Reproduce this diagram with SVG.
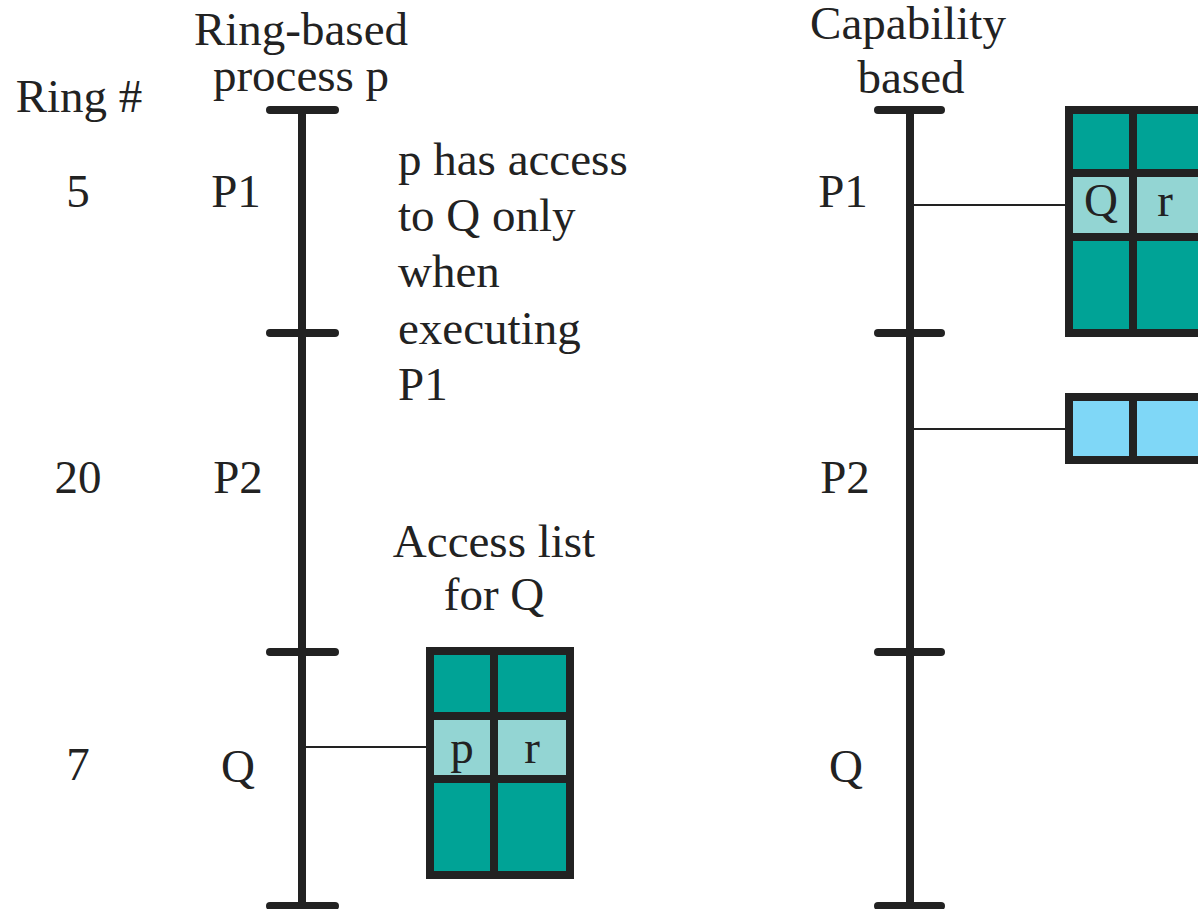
<svg xmlns="http://www.w3.org/2000/svg" width="1198" height="909" viewBox="0 0 1198 909">
  <style>
    text { font-family: "Liberation Serif", "Times New Roman", serif; font-size: 47px; fill: #222; }
    .mid { text-anchor: middle; }
    .axis { stroke: #222; stroke-width: 8; stroke-linecap: round; fill: none; }
    .axis-stem { stroke: #222; stroke-width: 8; fill: none; }
    .link { stroke: #222; stroke-width: 2; fill: none; }
    .grid { stroke: #222; stroke-width: 8; }
    .dark { fill: #00A396; }
    .light { fill: #93D5D3; }
    .blue { fill: #7FD7F7; }
  </style>

  <!-- column headings -->
  <g id="headings">
    <text x="79" y="112" class="mid">Ring #</text>
    <text x="301" y="45" class="mid">Ring-based</text>
    <text x="301" y="91" class="mid">process p</text>
    <text x="908" y="39" class="mid">Capability</text>
    <text x="911" y="93" class="mid">based</text>
  </g>

  <!-- ring numbers -->
  <g id="ring-numbers">
    <text x="78" y="207" class="mid">5</text>
    <text x="78" y="493" class="mid">20</text>
    <text x="78" y="780" class="mid">7</text>
  </g>

  <!-- ring-based process axis -->
  <g id="ring-axis">
    <line class="axis-stem" x1="302" y1="110" x2="302" y2="906"/>
    <line class="axis" x1="270" y1="110" x2="335" y2="110"/>
    <line class="axis" x1="270" y1="333" x2="335" y2="333"/>
    <line class="axis" x1="270" y1="652" x2="335" y2="652"/>
    <line class="axis" x1="270" y1="906" x2="335" y2="906"/>
    <text x="236" y="207" class="mid">P1</text>
    <text x="238" y="493" class="mid">P2</text>
    <text x="238" y="782" class="mid">Q</text>
  </g>

  <!-- capability-based process axis -->
  <g id="capability-axis">
    <line class="axis-stem" x1="910" y1="110" x2="910" y2="906"/>
    <line class="axis" x1="878" y1="110" x2="941" y2="110"/>
    <line class="axis" x1="878" y1="333" x2="941" y2="333"/>
    <line class="axis" x1="878" y1="652" x2="941" y2="652"/>
    <line class="axis" x1="878" y1="906" x2="941" y2="906"/>
    <text x="843" y="207" class="mid">P1</text>
    <text x="845" y="493" class="mid">P2</text>
    <text x="846" y="782" class="mid">Q</text>
  </g>

  <!-- note about ring access -->
  <g id="note">
    <text x="398" y="175">p has access</text>
    <text x="398" y="231">to Q only</text>
    <text x="398" y="287">when</text>
    <text x="398" y="344">executing</text>
    <text x="398" y="400">P1</text>
  </g>

  <!-- connectors -->
  <g id="connectors">
    <line class="link" x1="302" y1="747" x2="426" y2="747"/>
    <line class="link" x1="910" y1="205" x2="1065" y2="205"/>
    <line class="link" x1="910" y1="429" x2="1065" y2="429"/>
  </g>

  <!-- access list for Q -->
  <g id="access-list">
    <text x="494" y="557" class="mid">Access list</text>
    <text x="494" y="610" class="mid">for Q</text>
    <rect class="dark" x="430" y="651" width="140" height="224"/>
    <rect class="light" x="430" y="716" width="140" height="63"/>
    <rect class="grid" x="430" y="651" width="140" height="224" fill="none"/>
    <line class="grid" x1="494" y1="651" x2="494" y2="875"/>
    <line class="grid" x1="430" y1="716" x2="570" y2="716"/>
    <line class="grid" x1="430" y1="779" x2="570" y2="779"/>
    <text x="462" y="763" class="mid">p</text>
    <text x="532" y="763" class="mid">r</text>
  </g>

  <!-- capability list for P1 -->
  <g id="capability-p1">
    <rect class="dark" x="1069" y="110" width="140" height="223"/>
    <rect class="light" x="1069" y="173" width="140" height="64"/>
    <rect class="grid" x="1069" y="110" width="140" height="223" fill="none"/>
    <line class="grid" x1="1133" y1="110" x2="1133" y2="333"/>
    <line class="grid" x1="1069" y1="173" x2="1209" y2="173"/>
    <line class="grid" x1="1069" y1="237" x2="1209" y2="237"/>
    <text x="1101" y="216" class="mid">Q</text>
    <text x="1165" y="216" class="mid">r</text>
  </g>

  <!-- capability list for P2 -->
  <g id="capability-p2">
    <rect class="blue" x="1069" y="397" width="140" height="63"/>
    <rect class="grid" x="1069" y="397" width="140" height="63" fill="none"/>
    <line class="grid" x1="1133" y1="397" x2="1133" y2="460"/>
  </g>
</svg>
